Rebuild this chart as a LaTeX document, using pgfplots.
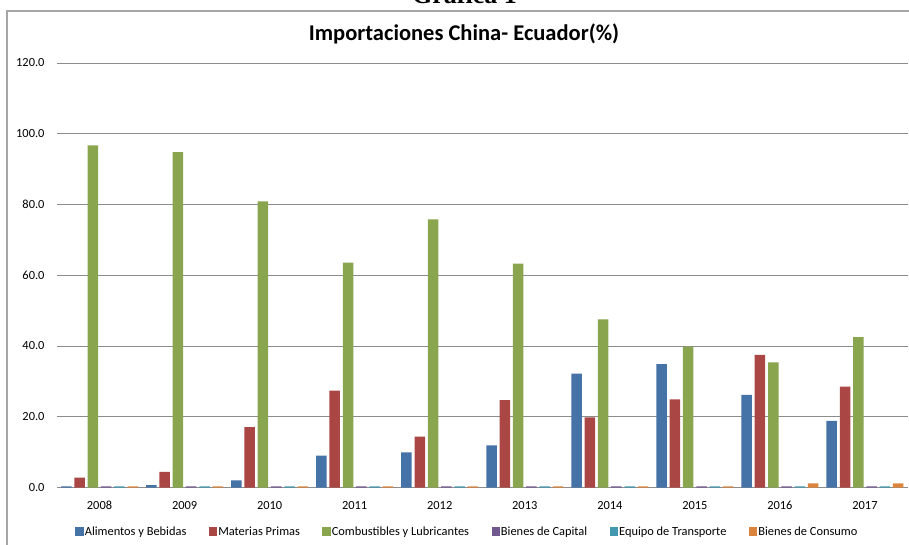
\documentclass[border=0pt]{standalone}
\usepackage{fontspec}
\setmainfont{Carlito}
\newfontfamily\headserif{Liberation Serif}
\usepackage{pgfplots}
\pgfplotsset{compat=1.18}

\definecolor{cAlim}{HTML}{4572A7}
\definecolor{cMat}{HTML}{AA4643}
\definecolor{cComb}{HTML}{89A54E}
\definecolor{cCap}{HTML}{71588F}
\definecolor{cTrans}{HTML}{4198AF}
\definecolor{cCons}{HTML}{DB843D}
\definecolor{gridgray}{HTML}{8C8C8C}
\definecolor{framegray}{HTML}{A6A6A6}

% Import shares by product group (%), one row per year
\pgfplotstableread{
x  alim  mat   comb  cap  trans cons
0  0.3   2.8   96.7  0.3  0.3   0.3
1  0.7   4.4   94.8  0.3  0.3   0.3
2  2.0   17.1  80.9  0.3  0.3   0.3
3  9.0   27.4  63.6  0.3  0.3   0.3
4  9.9   14.4  75.8  0.3  0.3   0.3
5  11.9  24.7  63.3  0.3  0.3   0.3
6  32.2  19.8  47.5  0.3  0.3   0.3
7  34.9  24.9  39.8  0.3  0.3   0.3
8  26.2  37.5  35.4  0.3  0.3   1.2
9  18.8  28.5  42.5  0.3  0.3   1.2
}\imports

\begin{document}
\begin{tikzpicture}
\useasboundingbox (0pt,0pt) rectangle (909pt,544pt);
% chart frame (its right and bottom sides fall outside the page)
\draw[framegray, line width=1.2pt] (7pt,-10pt) -- (7pt,533pt) -- (911pt,533pt) -- (911pt,-10pt);
% caption above the frame
\node[anchor=base, font=\headserif\bfseries\fontsize{26}{30}\selectfont] at (464.5pt,540pt) {Gráfica 1};
% chart title
\node[anchor=base, font=\bfseries\fontsize{22.5}{27}\selectfont] at (464pt,503pt) {Importaciones China- Ecuador(\%)};
\begin{axis}[
  at={(57pt,56.5pt)}, anchor=south west,
  scale only axis, width=850.5pt, height=424.5pt,
  ybar, bar width=10.5pt,
  xmin=-0.5, xmax=9.5, ymin=0, ymax=120,
  xtick=data, xticklabels={2008,2009,2010,2011,2012,2013,2014,2015,2016,2017},
  ytick={0,20,...,120},
  axis lines*=left,
  y axis line style={draw=none},
  x axis line style={draw=gridgray, line width=1pt, -},
  major tick length=0pt,
  ymajorgrids, grid style={draw=gridgray, line width=0.9pt},
  tick label style={font=\fontsize{12.4}{14}\selectfont},
  /pgf/number format/assume math mode=true,
  yticklabel style={/pgf/number format/fixed, /pgf/number format/fixed zerofill,
    /pgf/number format/precision=1, anchor=east, xshift=-9pt},
  xticklabel style={anchor=center, yshift=-18pt},
  legend columns=6,
  legend style={draw=none, fill=none, at={(0.4820,-0.1041)}, anchor=center,
    font=\fontsize{12.4}{14}\selectfont, nodes={inner sep=1pt},
    /tikz/every even column/.append style={column sep=21.5pt}},
  legend image code/.code={\fill[#1] (0pt,-4.2pt) rectangle (8.4pt,4.2pt);},
]
\addplot[fill=cAlim, draw=none, bar shift=-33.25pt] table[x=x, y=alim] {\imports};
\addplot[fill=cMat, draw=none, bar shift=-19.95pt] table[x=x, y=mat] {\imports};
\addplot[fill=cComb, draw=none, bar shift=-6.65pt] table[x=x, y=comb] {\imports};
\addplot[fill=cCap, draw=none, bar shift=6.65pt] table[x=x, y=cap] {\imports};
\addplot[fill=cTrans, draw=none, bar shift=19.95pt] table[x=x, y=trans] {\imports};
\addplot[fill=cCons, draw=none, bar shift=33.25pt] table[x=x, y=cons] {\imports};
\legend{Alimentos y Bebidas, Materias Primas, Combustibles y Lubricantes, Bienes de Capital, Equipo de Transporte, Bienes de Consumo}
\end{axis}
\end{tikzpicture}
\end{document}
